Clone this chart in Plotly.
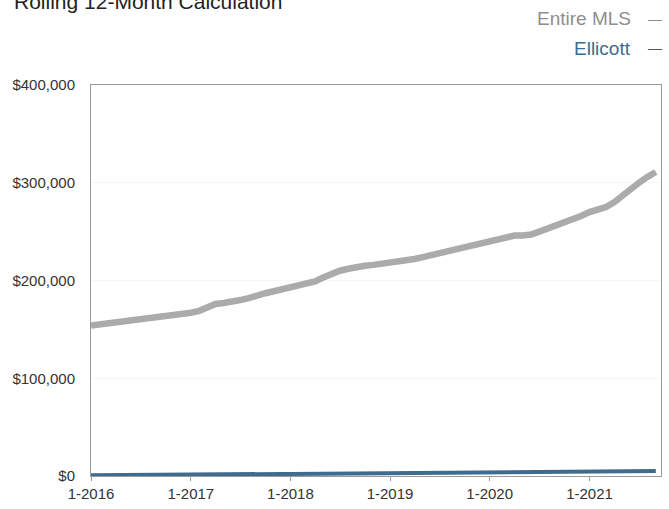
import pandas as pd
import plotly.graph_objects as go

# Monthly rolling 12-month median sales price, Jan 2016 - Sep 2021
months = pd.date_range("2016-01-01", "2021-09-01", freq="MS")

entire_mls = [
    154000, 155000, 156000, 157000, 158000, 159000, 160000, 161000, 162000, 163000, 164000, 165500,
    167000, 169000, 172000, 176000, 177000, 178000, 180000, 182000, 185000, 187000, 189000, 191000,
    193000, 194000, 196000, 199000, 203000, 207000, 210000, 212000, 214000, 215000, 216000, 217000,
    218000, 219000, 220000, 222000, 224000, 226000, 228000, 230000, 232000, 234000, 236000, 238000,
    240000, 242000, 245000, 246000, 246000, 247000, 250000, 253000, 256000, 259000, 262000, 266000,
    270000, 272000, 275000, 280000, 287000, 294000, 300000, 306000, 311000,
]

ellicott = [
    800, 900, 950, 1000, 1100, 1150, 1200, 1250, 1300, 1350, 1400, 1450,
    1500, 1550, 1600, 1700, 1750, 1800, 1850, 1900, 1950, 2000, 2050, 2100,
    2150, 2200, 2300, 2350, 2400, 2500, 2550, 2600, 2650, 2700, 2750, 2800,
    2850, 2900, 3000, 3050, 3100, 3200, 3250, 3300, 3350, 3400, 3450, 3500,
    3550, 3600, 3700, 3750, 3800, 3850, 3900, 4000, 4050, 4100, 4200, 4250,
    4300, 4400, 4500, 4600, 4700, 4800, 4900, 5000, 5100,
]

tick_dates = ["2016-01-01", "2017-01-01", "2018-01-01", "2019-01-01", "2020-01-01", "2021-01-01"]
tick_labels = ["1-2016", "1-2017", "1-2018", "1-2019", "1-2020", "1-2021"]
y_ticks = [0, 100000, 200000, 300000, 400000]

GRAY = "#ababab"
BLUE = "#3f6b8f"
FONT = "Liberation Sans, Arial, sans-serif"

fig = go.Figure()
fig.add_trace(go.Scatter(x=months, y=entire_mls, mode="lines", name="Entire MLS",
                         line=dict(color=GRAY, width=6.5)))
fig.add_trace(go.Scatter(x=months, y=ellicott, mode="lines", name="Ellicott",
                         line=dict(color=BLUE, width=4)))

fig.update_layout(
    width=669, height=509,
    margin=dict(l=91, r=7, t=85, b=22),
    paper_bgcolor="white", plot_bgcolor="white",
    showlegend=False,
    font=dict(family=FONT, color="#333333"),
)

fig.update_xaxes(
    range=["2016-01-01", "2021-09-20"],
    tickvals=tick_dates, ticktext=tick_labels,
    tickfont=dict(size=15, color="#333333"),
    ticks="outside", ticklen=4, tickcolor="#999999",
    showgrid=False, zeroline=False,
    showline=True, linecolor="#9a9a9a", linewidth=1, mirror=True,
)
fig.update_yaxes(
    range=[0, 400000],
    tickvals=y_ticks, tickformat="$,.0f",
    tickfont=dict(size=15, color="#333333"),
    ticks="", ticklabelstandoff=12,
    showgrid=True, gridcolor="#f5f5f5", gridwidth=1, zeroline=False,
    showline=True, linecolor="#9a9a9a", linewidth=1, mirror=True,
)

PLOT_W, PLOT_H, L, T = 571, 402, 91, 85


def px_x(px):
    return (px - L) / PLOT_W


def px_y(py):
    return (T + PLOT_H - py) / PLOT_H


fig.add_annotation(
    text="Rolling 12-Month Calculation",
    xref="paper", yref="paper", x=px_x(12), y=px_y(-1),
    xanchor="left", yanchor="middle", showarrow=False,
    font=dict(family=FONT, size=21, color="#222222"),
)

legend_rows = [("Entire MLS", "#8e8e8e", "#8e8e8e", 17), ("Ellicott", BLUE, "#555555", 47)]
for label, text_color, dash_color, py in legend_rows:
    fig.add_annotation(
        text=label,
        xref="paper", yref="paper", x=px_x(634), y=px_y(py),
        xanchor="right", yanchor="middle", showarrow=False,
        font=dict(family=FONT, size=19, color=text_color),
    )
    fig.add_annotation(
        text="—",
        xref="paper", yref="paper", x=px_x(647), y=px_y(py),
        xanchor="left", yanchor="middle", showarrow=False,
        font=dict(family=FONT, size=14, color=dash_color),
    )

fig.write_html("out.html")
